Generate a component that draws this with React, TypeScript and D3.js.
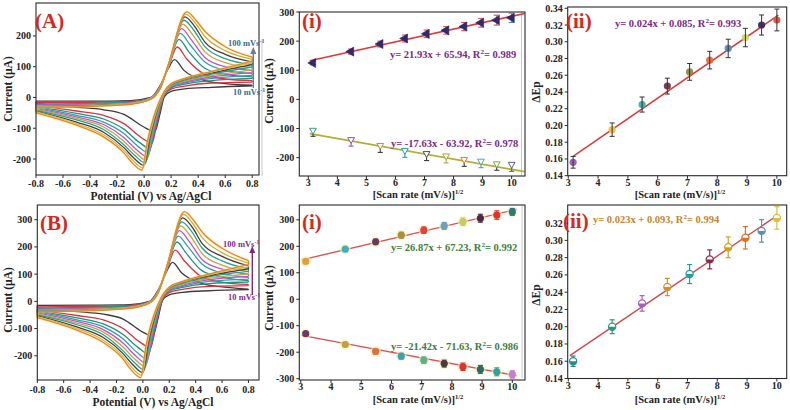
import React from "react";
import * as d3 from "d3";

const SERIF = '"Liberation Serif", "DejaVu Serif", "Times New Roman", serif';

// ---------------- shared data ----------------
const sqrtScanRate = [3.162, 4.472, 5.477, 6.325, 7.071, 7.746, 8.367, 8.944, 9.487, 10];
const cvColors = ["#3b3b3b", "#e0303c", "#23907c", "#2f9fb0", "#c351d2", "#c9a23e", "#1fa391", "#4b3a38", "#c8b13c", "#e8861e"];

// ---------------- Panel A : CVs ----------------
const cvA_Epa = [0.225, 0.245, 0.258, 0.268, 0.278, 0.287, 0.295, 0.302, 0.308, 0.315];
const cvA_Epc = [0.078, 0.058, 0.045, 0.035, 0.027, 0.018, 0.01, 0.0, -0.008, -0.017];
// forward sweep rows: E=-0.8, -0.4, -0.1, 0.05, 0.12, 0.18, anodic peak, shoulder, 0.45, 0.6, 0.8
const cvA_fwd = [
  [-12, -17, -21, -23, -25, -27, -29, -30, -31, -32],
  [-12, -16, -19, -21, -23, -25, -26, -27, -28, -29],
  [-10, -13, -15, -17, -18, -19, -20, -21, -21, -22],
  [0, -1, -2, -3, -3, -4, -4, -5, -5, -5],
  [40, 38, 36, 35, 34, 33, 32, 31, 30, 30],
  [95, 98, 100, 102, 103, 104, 105, 106, 107, 108],
  [123, 164, 189, 208, 224, 238, 251, 262, 271, 278],
  [88, 125, 150, 172, 188, 205, 220, 232, 242, 250],
  [55, 75, 95, 115, 130, 148, 165, 180, 198, 215],
  [45, 60, 75, 88, 100, 113, 126, 140, 152, 165],
  [40, 55, 67, 78, 88, 97, 107, 116, 124, 131],
];
// reverse sweep rows (ascending E): -0.8, -0.5, -0.3, -0.15, pre-peak, cathodic peak, post-peak, 0.15, 0.2, 0.3, 0.5, 0.8
const cvA_rev = [
  [-20, -26, -30, -33, -36, -39, -42, -45, -47, -50],
  [-32, -44, -52, -58, -63, -68, -73, -80, -85, -90],
  [-40, -58, -70, -80, -88, -96, -104, -113, -121, -128],
  [-55, -85, -103, -117, -130, -142, -154, -163, -172, -180],
  [-96, -130, -146, -159, -171, -180, -188, -195, -202, -208],
  [-111, -148, -166, -181, -194, -204, -213, -221, -229, -236],
  [-52, -78, -92, -103, -113, -121, -128, -134, -140, -145],
  [3, 7, 10, 12, 14, 15, 17, 18, 19, 20],
  [20, 27, 31, 34, 36, 38, 40, 42, 44, 45],
  [28, 37, 43, 47, 50, 53, 56, 59, 61, 62],
  [33, 47, 55, 62, 67, 71, 76, 80, 83, 85],
  [38, 50, 62, 72, 81, 90, 99, 107, 113, 118],
];

// ---------------- Panel B : CVs ----------------
const cvB_Epa = [0.225, 0.245, 0.258, 0.268, 0.278, 0.287, 0.295, 0.302, 0.308, 0.315];
const cvB_Epc = [0.075, 0.058, 0.045, 0.035, 0.027, 0.018, 0.01, 0.0, -0.008, -0.017];
const cvB_fwd = [
  [-15, -20, -25, -28, -30, -32, -34, -35, -37, -38],
  [-14, -19, -22, -25, -27, -29, -31, -32, -33, -34],
  [-12, -15, -18, -20, -21, -22, -24, -25, -25, -26],
  [0, -1, -2, -3, -4, -5, -5, -6, -6, -6],
  [45, 44, 42, 41, 40, 39, 38, 37, 36, 35],
  [110, 114, 117, 119, 120, 122, 123, 124, 125, 126],
  [143, 188, 218, 240, 260, 277, 292, 307, 320, 330],
  [104, 148, 177, 203, 222, 242, 260, 274, 286, 297],
  [65, 89, 112, 136, 153, 175, 195, 212, 234, 254],
  [53, 71, 89, 104, 118, 133, 149, 165, 179, 195],
  [45, 62, 76, 88, 100, 110, 120, 130, 140, 150],
];
const cvB_rev = [
  [-24, -31, -35, -39, -42, -46, -50, -53, -56, -60],
  [-38, -52, -61, -68, -74, -80, -86, -94, -100, -106],
  [-47, -68, -83, -94, -104, -113, -123, -133, -143, -151],
  [-65, -100, -122, -138, -153, -168, -182, -192, -203, -212],
  [-112, -150, -170, -187, -201, -212, -222, -231, -240, -247],
  [-128, -170, -193, -212, -228, -240, -252, -262, -272, -280],
  [-62, -92, -108, -120, -131, -139, -147, -154, -160, -165],
  [4, 8, 12, 14, 17, 18, 20, 21, 22, 24],
  [24, 32, 37, 40, 42, 45, 47, 50, 52, 53],
  [33, 44, 51, 55, 59, 63, 66, 70, 72, 73],
  [39, 55, 65, 73, 79, 84, 90, 94, 98, 100],
  [43, 58, 71, 82, 92, 101, 110, 119, 127, 135],
];

// ---------------- Panel A(i) ----------------
const ai_anodic = [125, 164, 190, 209, 225, 237, 250, 263, 272, 280];
const ai_anodicErr = [6, 9, 10, 12, 13, 13, 14, 15, 17, 16];
const ai_anodicErrColors = ["#e04a5a", "#e05a6a", "#e04a5a", "#e05a6a", "#e04a5a", "#e05a6a", "#e04a5a", "#e05a6a", "#e04a5a", "#3f9f8f"];
const ai_cathodic = [-106, -138, -158, -175, -186, -194, -206, -212, -221, -223];
const ai_cathodicErr = [13, 14, 15, 15, 15, 15, 15, 14, 14, 15];
const ai_cathodicColors = ["#3aa08a", "#8a5a9a", "#c09030", "#20a0a8", "#5a4a4a", "#b0a040", "#e08030", "#50a0b8", "#78b040", "#606080"];
const ai_fitAnodic = [21.93, 65.94];
const ai_fitCathodic = [-17.63, -63.92];

// ---------------- Panel A(ii) ----------------
const aii_dEp = [0.156, 0.195, 0.225, 0.247, 0.264, 0.278, 0.292, 0.305, 0.32, 0.326];
const aii_err = [0.007, 0.008, 0.009, 0.0095, 0.01, 0.0105, 0.011, 0.011, 0.012, 0.013];
const aii_colors = ["#9a5ab0", "#f0c040", "#3ab0a8", "#6a3a4a", "#8a8a4a", "#e86a40", "#5a8ab8", "#c8d870", "#3a2a5a", "#e05040"];
const aii_fit = [0.0245, 0.0856];

// ---------------- Panel B(i) ----------------
const bi_anodic = [143, 189, 217, 242, 261, 277, 293, 306, 318, 330];
const bi_anodicErr = [5, 8, 10, 11, 12, 13, 14, 15, 16, 13];
const bi_anodicColors = ["#e0a040", "#40b0b8", "#6a3a5a", "#a89040", "#e04040", "#6aa0c0", "#c0d060", "#4a2a4a", "#e03030", "#2a7a7a"];
const bi_cathodic = [-130, -171, -197, -215, -230, -243, -255, -265, -274, -284];
const bi_cathodicErr = [6, 8, 10, 11, 12, 13, 14, 15, 15, 14];
const bi_cathodicColors = ["#6a3a6a", "#c0a040", "#e07040", "#40a0b0", "#60b090", "#4a3a3a", "#e03030", "#2a6a6a", "#30a0a0", "#c080d0"];
const bi_fitAnodic = [26.87, 67.23];
const bi_fitCathodic = [-21.42, -71.63];

// ---------------- Panel B(ii) ----------------
const bii_dEp = [0.16, 0.2, 0.227, 0.246, 0.261, 0.278, 0.292, 0.303, 0.311, 0.326];
const bii_err = [0.006, 0.008, 0.009, 0.01, 0.011, 0.011, 0.012, 0.013, 0.013, 0.013];
const bii_colors = ["#2a8a8a", "#2a9a7a", "#a060c0", "#d09030", "#20a0a0", "#8a2a4a", "#d0a020", "#e07020", "#5a90b0", "#d8c040"];
const bii_fit = [0.0233, 0.0955];

// ---------------- tick lists ----------------
const cvXTicks = [-0.8, -0.6, -0.4, -0.2, 0, 0.2, 0.4, 0.6, 0.8];
const cvAYTicks = [-200, -100, 0, 100, 200];
const cvBYTicks = [-200, -100, 0, 100, 200, 300];
const srXTicks = [3, 4, 5, 6, 7, 8, 9, 10];
const aiYTicks = [-200, -100, 0, 100, 200, 300];
const biYTicks = [-300, -200, -100, 0, 100, 200, 300];
const aiiYTicks = [0.14, 0.16, 0.18, 0.2, 0.22, 0.24, 0.26, 0.28, 0.3, 0.32, 0.34];
const biiYTicks = [0.14, 0.16, 0.18, 0.2, 0.22, 0.24, 0.26, 0.28, 0.3, 0.32];

type Scale = d3.ScaleLinear<number, number>;

function Frame({ xs, ys, xTicks, yTicks, xFmt, yFmt, xLabOff = 12 }: any) {
  const [x0, x1] = xs.range();
  const [y1, y0] = ys.range();
  return (
    <g fontFamily={SERIF} fontWeight="bold" fontSize={10} fill="#222">
      <rect x={x0} y={y0} width={x1 - x0} height={y1 - y0} fill="none" stroke="#2a2a2a" strokeWidth={1.1} />
      {xTicks.map((t: number) => (
        <g key={"x" + t}>
          <line x1={xs(t)} x2={xs(t)} y1={y1} y2={y1 + 3} stroke="#2a2a2a" strokeWidth={1} />
          <text x={xs(t)} y={y1 + xLabOff} textAnchor="middle">{xFmt(t)}</text>
        </g>
      ))}
      {yTicks.map((t: number) => (
        <g key={"y" + t}>
          <line x1={x0 - 3} x2={x0} y1={ys(t)} y2={ys(t)} stroke="#2a2a2a" strokeWidth={1} />
          <text x={x0 - 5} y={ys(t) + 3.5} textAnchor="end">{yFmt(t)}</text>
        </g>
      ))}
    </g>
  );
}

function CVCurves({ xs, ys, Epa, Epc, fwd, rev }: any) {
  const line = d3
    .line<[number, number]>()
    .x((d) => xs(d[0]))
    .y((d) => ys(d[1]))
    .curve(d3.curveMonotoneX);
  return (
    <g fill="none">
      {cvColors.map((c, k) => {
        const fE = [-0.8, -0.4, -0.1, 0.05, 0.12, 0.18, Epa[k], Epa[k] + 0.07, 0.45, 0.6, 0.8];
        const rE = [-0.8, -0.5, -0.3, -0.15, Epc[k] - 0.08, Epc[k], Epc[k] + 0.04, 0.15, 0.2, 0.3, 0.5, 0.8];
        const fp = fE.map((e, i) => [e, fwd[i][k]] as [number, number]);
        const rp = rE.map((e, i) => [e, rev[i][k]] as [number, number]);
        const n = fp.length - 1;
        const m = rp.length - 1;
        const conn = `M${xs(-0.8)},${ys(fp[0][1])}L${xs(-0.8)},${ys(rp[0][1])}M${xs(0.8)},${ys(fp[n][1])}L${xs(0.8)},${ys(rp[m][1])}`;
        const d = (line(fp) || "") + (line(rp) || "") + conn;
        return (
          <g key={k}>
            {k === cvColors.length - 1 && <path d={d} stroke="#f5e39a" strokeWidth={3.2} opacity={0.35} />}
            <path d={d} stroke={c} strokeWidth={1.3} />
          </g>
        );
      })}
    </g>
  );
}

function FitLine({ xs, ys, fit, xr, color, width = 1.4 }: any) {
  const pts = xr.map((x: number) => [x, fit[0] * x + fit[1]]);
  const l = d3.line<number[]>().x((d) => xs(d[0])).y((d) => ys(d[1]));
  return <path d={l(pts) || ""} stroke={color} strokeWidth={width} fill="none" />;
}

function ErrBar({ x, yTop, yBot, color, cap = 3, w = 1.1 }: any) {
  return (
    <g stroke={color} strokeWidth={w}>
      <line x1={x} x2={x} y1={yTop} y2={yBot} />
      <line x1={x - cap} x2={x + cap} y1={yTop} y2={yTop} />
      <line x1={x - cap} x2={x + cap} y1={yBot} y2={yBot} />
    </g>
  );
}

const triPath = d3.symbol().type(d3.symbolTriangle).size(36)() || "";
const triSmall = d3.symbol().type(d3.symbolTriangle).size(20)() || "";

function Sup({ children }: any) {
  return (
    <tspan dy={-4} fontSize="0.68em">{children}</tspan>
  );
}

function Equation({ x, y, color, eq, r2 }: any) {
  return (
    <text x={x} y={y} fontFamily={SERIF} fontWeight="bold" fontSize={10.5} fill={color}>
      {eq + ", R"}
      <Sup>2</Sup>
      <tspan dy={4}>{"= " + r2}</tspan>
    </text>
  );
}

function PanelLabel({ x, y, text }: any) {
  return (
    <text x={x} y={y} fontFamily={SERIF} fontWeight="bold" fontSize={21} fill="#d42a1e">{text}</text>
  );
}

function YTitle({ x, y, text }: any) {
  return (
    <text transform={`translate(${x},${y}) rotate(-90)`} textAnchor="middle" fontFamily={SERIF} fontWeight="bold" fontSize={11.5} fill="#222">
      {text}
    </text>
  );
}

function ScanTitle({ x, y }: any) {
  return (
    <text x={x} y={y} textAnchor="middle" fontFamily={SERIF} fontWeight="bold" fontSize={10.5} fill="#222">
      [Scan rate (mV/s)]
      <tspan dy={-4} fontSize={6.5}>1/2</tspan>
    </text>
  );
}

function RateArrow({ x, yTop, yBot, color, textColor, topY, botY, tx }: any) {
  return (
    <g>
      <line x1={x} x2={x} y1={yBot} y2={yTop + 5} stroke={color} strokeWidth={1.4} />
      <path d={`M${x - 3},${yTop + 7}L${x},${yTop}L${x + 3},${yTop + 7}Z`} fill={color} />
      <text x={tx} y={topY} fontFamily={SERIF} fontWeight="bold" fontSize={8.5} fill={textColor}>
        100 mVs<tspan dy={-3} fontSize={6}>-1</tspan>
      </text>
      <text x={tx + 5} y={botY} fontFamily={SERIF} fontWeight="bold" fontSize={8.5} fill={textColor}>
        10 mVs<tspan dy={-3} fontSize={6}>-1</tspan>
      </text>
    </g>
  );
}

const fmtCVx = (t: number) => (t === 0 ? "0.0" : d3.format(".1f")(t).replace("−", "-"));
const fmtInt = (t: number) => String(t);
const fmt2 = (t: number) => t.toFixed(2);

export default function App() {
  // scales
  const xsA: Scale = d3.scaleLinear().domain([-0.8, 0.85]).range([36, 259]);
  const ysA: Scale = d3.scaleLinear().domain([-252, 307]).range([175, 3]);
  const xsAi: Scale = d3.scaleLinear().domain([2.69, 10.46]).range([299.3, 525]);
  const ysAi: Scale = d3.scaleLinear().domain([-263, 300]).range([176, 12]);
  const xsAii: Scale = d3.scaleLinear().domain([2.98, 10.33]).range([567.7, 786.7]);
  const ysAii: Scale = d3.scaleLinear().domain([0.14, 0.3415]).range([175.7, 7]);

  const xsB: Scale = d3.scaleLinear().domain([-0.8, 0.88]).range([37.3, 259]);
  const ysB: Scale = d3.scaleLinear().domain([-289, 354]).range([380, 205]);
  const xsBi: Scale = d3.scaleLinear().domain([2.95, 10.42]).range([299.3, 525]);
  const ysBi: Scale = d3.scaleLinear().domain([-305, 356]).range([380, 205]);
  const xsBii: Scale = d3.scaleLinear().domain([2.98, 10.33]).range([567.7, 786.7]);
  const ysBii: Scale = d3.scaleLinear().domain([0.14, 0.341]).range([378.5, 205]);

  return (
    <svg width={790} height={410} style={{ position: "absolute", left: 0, top: 0, background: "#fff" }}>
      <rect width={790} height={410} fill="#fff" />
      {/* faint sub-image borders */}
      <g stroke="#c4c9d4" strokeWidth={1}>
        <line x1={262} x2={262} y1={40} y2={176} />
        <line x1={521.5} x2={521.5} y1={12} y2={176} />
        <line x1={522} x2={522} y1={205} y2={378} />
      </g>

      {/* ---------- Panel A ---------- */}
      <CVCurves xs={xsA} ys={ysA} Epa={cvA_Epa} Epc={cvA_Epc} fwd={cvA_fwd} rev={cvA_rev} />
      <Frame xs={xsA} ys={ysA} xTicks={cvXTicks} yTicks={cvAYTicks} xFmt={fmtCVx} yFmt={fmtInt} xLabOff={12} />
      <PanelLabel x={35} y={28} text="(A)" />
      <RateArrow x={253.3} yTop={47} yBot={88} color="#6a7c98" textColor="#41688e" topY={45.5} botY={94.5} tx={228} />
      <text x={151} y={200} textAnchor="middle" fontFamily={SERIF} fontWeight="bold" fontSize={11.5} fill="#222">
        Potential (V) vs Ag/AgCl
      </text>
      <YTitle x={12} y={89} text="Current (µA)" />

      {/* ---------- Panel A(i) ---------- */}
      <FitLine xs={xsAi} ys={ysAi} fit={ai_fitAnodic} xr={[3.05, 10.45]} color="#e03a3a" width={1.6} />
      <FitLine xs={xsAi} ys={ysAi} fit={ai_fitCathodic} xr={[3.05, 10.45]} color="#b3ae3a" width={1.8} />
      {sqrtScanRate.map((x, i) => (
        <g key={"aia" + i}>
          <ErrBar x={xsAi(x)} yTop={ysAi(ai_anodic[i] + ai_anodicErr[i])} yBot={ysAi(ai_anodic[i] - ai_anodicErr[i])} color={ai_anodicErrColors[i]} />
          <path d={triPath} transform={`translate(${xsAi(x)},${ysAi(ai_anodic[i])}) rotate(-90)`} fill="#2d2b6e" stroke="#1e1c50" strokeWidth={0.5} />
        </g>
      ))}
      {sqrtScanRate.map((x, i) => (
        <g key={"aic" + i}>
          <ErrBar x={xsAi(x)} yTop={ysAi(ai_cathodic[i] + 2)} yBot={ysAi(ai_cathodic[i] - ai_cathodicErr[i] * 1.6)} color={i % 2 === 0 ? "#3a3a3a" : ai_cathodicColors[i]} cap={2.5} />
          <path d={triSmall} transform={`translate(${xsAi(x)},${ysAi(ai_cathodic[i])}) rotate(180)`} fill="#fff" stroke={ai_cathodicColors[i]} strokeWidth={1} />
        </g>
      ))}
      <Frame xs={xsAi} ys={ysAi} xTicks={srXTicks} yTicks={aiYTicks} xFmt={fmtInt} yFmt={fmtInt} xLabOff={9.8} />
      <PanelLabel x={302} y={28} text="(i)" />
      <Equation x={390} y={57.5} color="#7a2a88" eq="y= 21.93x + 65.94" r2="0.989" />
      <Equation x={391} y={146.5} color="#7a2a88" eq="y= -17.63x - 63.92" r2="0.978" />
      <ScanTitle x={418} y={198} />
      <YTitle x={273} y={91} text="Current (µA)" />

      {/* ---------- Panel A(ii) ---------- */}
      <FitLine xs={xsAii} ys={ysAii} fit={aii_fit} xr={[3.16, 10.05]} color="#d93a3a" width={1.5} />
      {sqrtScanRate.map((x, i) => (
        <g key={"aii" + i}>
          <circle cx={xsAii(x)} cy={ysAii(aii_dEp[i])} r={3.6} fill={aii_colors[i]} opacity={0.95} />
          <ErrBar x={xsAii(x)} yTop={ysAii(aii_dEp[i] + aii_err[i])} yBot={ysAii(aii_dEp[i] - aii_err[i])} color="#333" cap={2.5} w={1} />
        </g>
      ))}
      <Frame xs={xsAii} ys={ysAii} xTicks={srXTicks} yTicks={aiiYTicks} xFmt={fmtInt} yFmt={fmt2} xLabOff={9.8} />
      <PanelLabel x={566} y={28} text="(ii)" />
      <Equation x={615} y={27} color="#7a2a88" eq="y= 0.024x + 0.085" r2="0.993" />
      <ScanTitle x={680} y={198} />
      <YTitle x={540} y={92} text="ΔEp" />

      {/* ---------- Panel B ---------- */}
      <CVCurves xs={xsB} ys={ysB} Epa={cvB_Epa} Epc={cvB_Epc} fwd={cvB_fwd} rev={cvB_rev} />
      <Frame xs={xsB} ys={ysB} xTicks={cvXTicks} yTicks={cvBYTicks} xFmt={fmtCVx} yFmt={fmtInt} xLabOff={12.5} />
      <PanelLabel x={40} y={230} text="(B)" />
      <RateArrow x={252.3} yTop={246} yBot={295} color="#7a2a86" textColor="#8a2a86" topY={246.5} botY={300} tx={223} />
      <text x={153} y={405.5} textAnchor="middle" fontFamily={SERIF} fontWeight="bold" fontSize={11.5} fill="#222">
        Potential (V) vs Ag/AgCl
      </text>
      <YTitle x={12} y={300} text="Current (µA)" />

      {/* ---------- Panel B(i) ---------- */}
      <FitLine xs={xsBi} ys={ysBi} fit={bi_fitAnodic} xr={[3.03, 10.15]} color="#e05050" width={1.4} />
      <FitLine xs={xsBi} ys={ysBi} fit={bi_fitCathodic} xr={[3.03, 10.15]} color="#e05050" width={1.4} />
      {sqrtScanRate.map((x, i) => (
        <g key={"bia" + i}>
          <circle cx={xsBi(x)} cy={ysBi(bi_anodic[i])} r={5.5} fill="#f4f2b0" opacity={0.6} />
          <ErrBar x={xsBi(x)} yTop={ysBi(bi_anodic[i] + bi_anodicErr[i])} yBot={ysBi(bi_anodic[i] - bi_anodicErr[i])} color={bi_anodicColors[i]} cap={2.5} />
          <circle cx={xsBi(x)} cy={ysBi(bi_anodic[i])} r={3.6} fill={bi_anodicColors[i]} />
        </g>
      ))}
      {sqrtScanRate.map((x, i) => (
        <g key={"bic" + i}>
          <circle cx={xsBi(x)} cy={ysBi(bi_cathodic[i])} r={5.5} fill="#f4f2b0" opacity={0.6} />
          <ErrBar x={xsBi(x)} yTop={ysBi(bi_cathodic[i] + bi_cathodicErr[i])} yBot={ysBi(bi_cathodic[i] - bi_cathodicErr[i])} color={bi_cathodicColors[i]} cap={2.5} />
          <circle cx={xsBi(x)} cy={ysBi(bi_cathodic[i])} r={3.6} fill={bi_cathodicColors[i]} />
        </g>
      ))}
      <Frame xs={xsBi} ys={ysBi} xTicks={srXTicks} yTicks={biYTicks} xFmt={fmtInt} yFmt={fmtInt} xLabOff={10} />
      <PanelLabel x={302} y={229} text="(i)" />
      <Equation x={391} y={250.5} color="#3e7d3e" eq="y= 26.87x + 67.23" r2="0.992" />
      <Equation x={391} y={349.5} color="#3e7d3e" eq="y= -21.42x - 71.63" r2="0.986" />
      <ScanTitle x={418} y={403} />
      <YTitle x={273} y={298} text="Current (µA)" />

      {/* ---------- Panel B(ii) ---------- */}
      <FitLine xs={xsBii} ys={ysBii} fit={bii_fit} xr={[3.05, 10.0]} color="#d04848" width={1.4} />
      {sqrtScanRate.map((x, i) => {
        const cx = xsBii(x);
        const cy = ysBii(bii_dEp[i]);
        const r = 3.6;
        return (
          <g key={"bii" + i}>
            <ErrBar x={cx} yTop={ysBii(bii_dEp[i] + bii_err[i])} yBot={ysBii(bii_dEp[i] - bii_err[i])} color={bii_colors[i]} cap={2.5} w={1.2} />
            <circle cx={cx} cy={cy} r={r} fill="#fff" stroke={bii_colors[i]} strokeWidth={1.2} />
            <path d={`M${cx - r},${cy}A${r},${r} 0 0 0 ${cx + r},${cy}Z`} fill={bii_colors[i]} />
          </g>
        );
      })}
      <Frame xs={xsBii} ys={ysBii} xTicks={srXTicks} yTicks={biiYTicks} xFmt={fmtInt} yFmt={fmt2} xLabOff={10.5} />
      <PanelLabel x={563} y={228} text="(ii)" />
      <Equation x={593} y={222.5} color="#c8862a" eq="y= 0.023x + 0.093" r2="0.994" />
      <ScanTitle x={680} y={403} />
      <YTitle x={540} y={295} text="ΔEp" />
    </svg>
  );
}
